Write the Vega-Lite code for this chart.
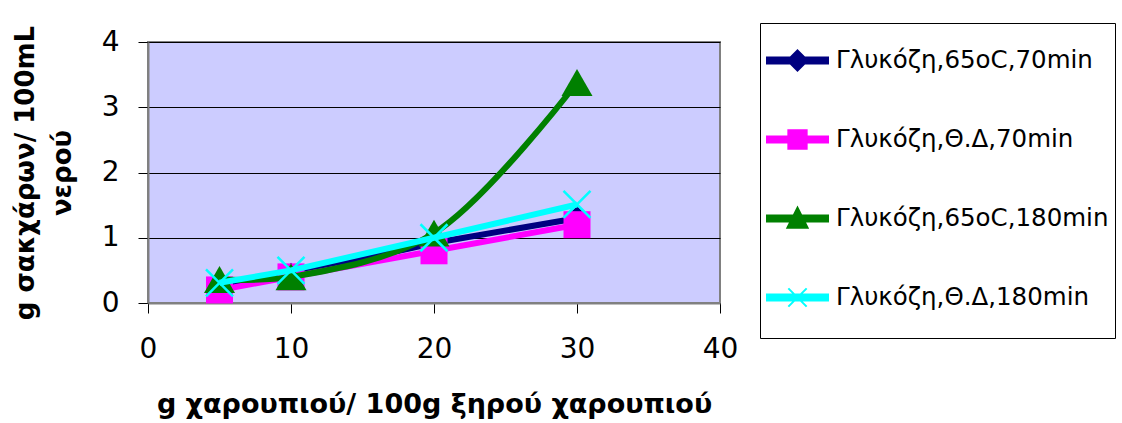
{
  "$schema": "https://vega.github.io/schema/vega-lite/v6.json",
  "autosize": "none",
  "width": 572,
  "height": 261,
  "padding": {"left": 148, "top": 42, "right": 402, "bottom": 120},
  "background": "white",
  "config": {
    "font": "DejaVu Sans",
    "view": {"fill": "#CCCCFF", "stroke": "#808080", "strokeWidth": 2},
    "axis": {"labelFont": "DejaVu Sans", "titleFont": "DejaVu Sans", "labelColor": "black", "titleColor": "black", "tickColor": "black", "domainColor": "#808080", "domainWidth": 2, "tickSize": 10, "tickWidth": 1, "labelFlush": false}
  },
  "data": {
    "values": [
      {"s": "Γλυκόζη,65oC,70min", "k": 0, "x": 5, "y": 0.25},
      {"s": "Γλυκόζη,65oC,70min", "k": 0, "x": 10, "y": 0.43},
      {"s": "Γλυκόζη,65oC,70min", "k": 0, "x": 20, "y": 0.92},
      {"s": "Γλυκόζη,65oC,70min", "k": 0, "x": 30, "y": 1.3},
      {"s": "Γλυκόζη,Θ.Δ,70min", "k": 1, "x": 5, "y": 0.2},
      {"s": "Γλυκόζη,Θ.Δ,70min", "k": 1, "x": 10, "y": 0.4},
      {"s": "Γλυκόζη,Θ.Δ,70min", "k": 1, "x": 20, "y": 0.8},
      {"s": "Γλυκόζη,Θ.Δ,70min", "k": 1, "x": 30, "y": 1.2},
      {"s": "Γλυκόζη,65oC,180min", "k": 2, "x": 5, "y": 0.36},
      {"s": "Γλυκόζη,65oC,180min", "k": 2, "x": 10, "y": 0.4},
      {"s": "Γλυκόζη,65oC,180min", "k": 2, "x": 20, "y": 1.07},
      {"s": "Γλυκόζη,65oC,180min", "k": 2, "x": 30, "y": 3.38},
      {"s": "Γλυκόζη,Θ.Δ,180min", "k": 3, "x": 5, "y": 0.31},
      {"s": "Γλυκόζη,Θ.Δ,180min", "k": 3, "x": 10, "y": 0.5},
      {"s": "Γλυκόζη,Θ.Δ,180min", "k": 3, "x": 20, "y": 1.0},
      {"s": "Γλυκόζη,Θ.Δ,180min", "k": 3, "x": 30, "y": 1.51}
    ]
  },
  "encoding": {
    "x": {"field": "x", "type": "quantitative", "scale": {"domain": [0, 40], "nice": false, "zero": false},
      "axis": {"values": [0, 10, 20, 30, 40], "grid": false, "labelFontSize": 28, "labelPadding": 22, "labelFlush": false,
        "title": "g χαρουπιού/ 100g ξηρού χαρουπιού", "titleFontSize": 27, "titleFontWeight": "bold", "titlePadding": 28}},
    "y": {"field": "y", "type": "quantitative", "scale": {"domain": [0, 4], "nice": false},
      "axis": {"values": [0, 1, 2, 3, 4], "grid": true, "gridColor": "black", "gridWidth": 1, "gridOpacity": 1, "labelFontSize": 28, "labelPadding": 19, "labelFlush": false,
        "title": ["g σακχάρων/ 100mL", "νερού"], "titleFontSize": 26, "titleFontWeight": "bold", "titleLineHeight": 37, "titlePadding": 26}},
    "color": {"field": "s", "type": "nominal",
      "scale": {"domain": ["Γλυκόζη,65oC,70min", "Γλυκόζη,Θ.Δ,70min", "Γλυκόζη,65oC,180min", "Γλυκόζη,Θ.Δ,180min"], "range": ["#000080", "#FF00FF", "#008000", "#00FFFF"]},
      "legend": {"orient": "none", "legendX": 612, "legendY": -19, "title": null, "symbolSize": 3721, "labelFontSize": 24.5, "labelFont": "DejaVu Sans", "labelColor": "black", "padding": 6, "strokeColor": "black", "fillColor": "white", "rowPadding": 10, "labelOffset": 7, "symbolStrokeWidth": 2, "labelLimit": 400,
        "encode": {"symbols": {"update": {
          "shape": {"signal": "datum.index === 0 ? 'M-1,-1M1,1M-1,-0.1H1V0.1H-1Z M0,-0.33L0.33,0L0,0.33L-0.33,0Z' : datum.index === 1 ? 'M-1,-1M1,1M-1,-0.1H1V0.1H-1Z M-0.3,-0.3H0.3V0.3H-0.3Z' : datum.index === 2 ? 'M-1,-1M1,1M-1,-0.1H1V0.1H-1Z M0,-0.35L0.33,0.3L-0.33,0.3Z' : 'M-1,-1M1,1M-1,-0.1H1V0.1H-1Z M-0.3,-0.3L0.3,0.3M-0.3,0.3L0.3,-0.3'"},
          "fill": {"signal": "scale('color', datum.value)"},
          "stroke": {"signal": "scale('color', datum.value)"},
          "strokeWidth": {"value": 2}
        }}}}
    }
  },
  "layer": [
    {"transform": [{"filter": "datum.k === 0"}], "mark": {"type": "line", "strokeWidth": 6}},
    {"transform": [{"filter": "datum.k === 0"}], "mark": {"type": "point", "shape": "diamond", "filled": true, "opacity": 1, "size": 600}},
    {"transform": [{"filter": "datum.k === 1"}], "mark": {"type": "line", "strokeWidth": 6}},
    {"transform": [{"filter": "datum.k === 1"}], "mark": {"type": "point", "shape": "square", "filled": true, "opacity": 1, "size": 729}},
    {"transform": [{"filter": "datum.k === 2"}], "mark": {"type": "line", "strokeWidth": 6, "interpolate": "catmull-rom"}},
    {"transform": [{"filter": "datum.k === 2"}], "mark": {"type": "point", "shape": "triangle-up", "filled": true, "opacity": 1, "size": 961}},
    {"transform": [{"filter": "datum.k === 3"}], "mark": {"type": "line", "strokeWidth": 6}},
    {"transform": [{"filter": "datum.k === 3"}], "mark": {"type": "point", "shape": "M-1,-1L1,1M-1,1L1,-1", "filled": false, "opacity": 1, "strokeWidth": 2.5, "size": 729}}
  ]
}
